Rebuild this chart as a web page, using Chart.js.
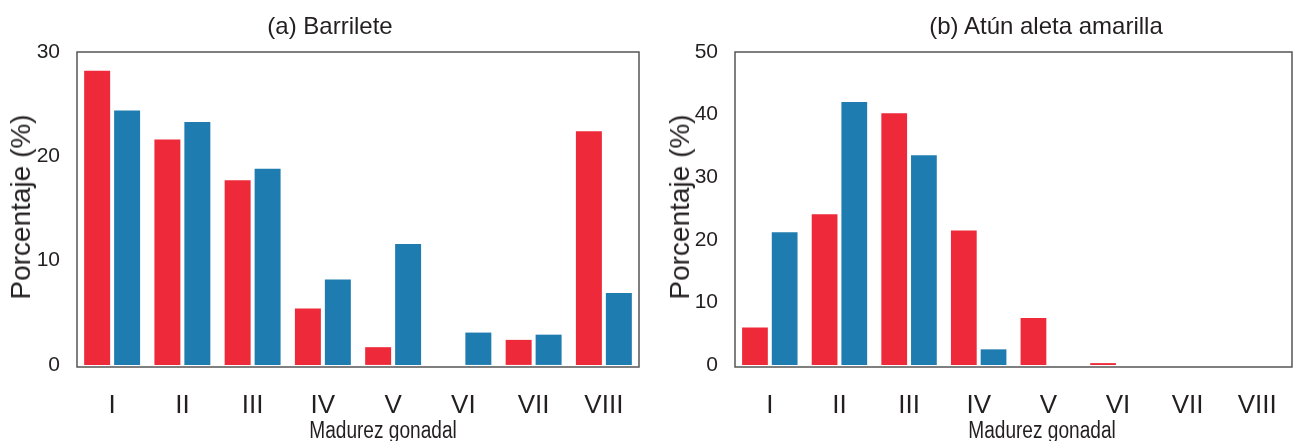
<!DOCTYPE html>
<html>
<head>
<meta charset="utf-8">
<script src="https://cdn.jsdelivr.net/npm/chart.js@4/dist/chart.umd.min.js"></script>
<style>
  html, body { margin: 0; padding: 0; background: #fff; overflow: hidden; width: 1293px; height: 441px; }
  .panel { position: absolute; top: 0; }
  .txt { position: absolute; transform: translate(-50%, -50%); white-space: nowrap; color: #231f20; font-family: 'Liberation Sans', Arial, sans-serif; }
  .title { font-size: 24px; }
  .ylab { font-size: 28px; transform: translate(-50%, -50%) rotate(-90deg); }
  .xlab { font-size: 23px; transform: translate(-50%, -50%) scaleX(0.83); }
</style>
</head>
<body>
<canvas id="chartA" class="panel" style="left:0px" width="660" height="441"></canvas>
<canvas id="chartB" class="panel" style="left:660px" width="640" height="441"></canvas>

<div class="txt title" style="left:330px; top:26px">(a) Barrilete</div>
<div class="txt title" style="left:1046px; top:26px">(b) Atún aleta amarilla</div>
<div class="txt ylab" style="left:21px; top:207px">Porcentaje (%)</div>
<div class="txt ylab" style="left:680px; top:207px">Porcentaje (%)</div>
<div class="txt xlab" style="left:383px; top:430px">Madurez gonadal</div>
<div class="txt xlab" style="left:1042px; top:430px">Madurez gonadal</div>

<script>
// Estadios de madurez gonadal
const categories = ['I', 'II', 'III', 'IV', 'V', 'VI', 'VII', 'VIII'];

// (a) Barrilete
const barriletesRojo = [28.2, 21.6, 17.7, 5.4, 1.7, 0, 2.4, 22.4];
const barriletesAzul = [24.4, 23.3, 18.8, 8.2, 11.6, 3.1, 2.9, 6.9];
const ticksA = [0, 10, 20, 30];

// (b) Atún aleta amarilla
const aletaRojo = [6.0, 24.1, 40.2, 21.5, 7.5, 0.3, 0, 0];
const aletaAzul = [21.2, 42.0, 33.5, 2.5, 0, 0, 0, 0];
const ticksB = [0, 10, 20, 30, 40, 50];

const ROJO = '#ee2a3a';
const AZUL = '#1f7cb0';
const TEXTO = '#231f20';

// marco completo alrededor del área del gráfico
const framePlugin = {
  id: 'frame',
  afterDraw(chart) {
    const { ctx, chartArea: a } = chart;
    ctx.save();
    ctx.strokeStyle = '#555';
    ctx.lineWidth = 1.5;
    ctx.strokeRect(a.left, a.top, a.right - a.left, a.bottom - a.top);
    ctx.restore();
  }
};

const buildChart = (id, rojo, azul, tickValues, yMin, yWidth, padRight) => {
  const ctx = document.getElementById(id).getContext('2d');
  return new Chart(ctx, {
    type: 'bar',
    data: {
      labels: categories,
      datasets: [
        { label: 'Rojo', data: rojo, backgroundColor: ROJO, borderWidth: 0 },
        { label: 'Azul', data: azul, backgroundColor: AZUL, borderWidth: 0 },
      ],
    },
    options: {
      responsive: false,
      animation: false,
      devicePixelRatio: 1,
      categoryPercentage: 0.853,
      barPercentage: 0.867,
      layout: { padding: { top: 52, right: padRight, left: 0, bottom: 0 } },
      plugins: { legend: { display: false }, tooltip: { enabled: false }, title: { display: false } },
      scales: {
        x: {
          grid: { display: false, drawTicks: false },
          border: { display: false },
          ticks: {
            color: TEXTO,
            padding: 23,
            maxRotation: 0,
            font: { family: "'Liberation Sans', Arial, sans-serif", size: 26 },
          },
          afterFit: (scale) => { scale.height = 74; },
        },
        y: {
          min: yMin,
          max: tickValues[tickValues.length - 1],
          grid: { display: false, drawTicks: false },
          border: { display: false },
          ticks: {
            color: TEXTO,
            padding: 17,
            font: { family: "'Liberation Sans', Arial, sans-serif", size: 21 },
          },
          afterBuildTicks: (scale) => { scale.ticks = tickValues.map((v) => ({ value: v })); },
          afterFit: (scale) => { scale.width = yWidth; },
        },
      },
    },
    plugins: [framePlugin],
  });
};

buildChart('chartA', barriletesRojo, barriletesAzul, ticksA, -0.2, 77, 21);
buildChart('chartB', aletaRojo, aletaAzul, ticksB, -0.32, 75, 5);
</script>
</body>
</html>
